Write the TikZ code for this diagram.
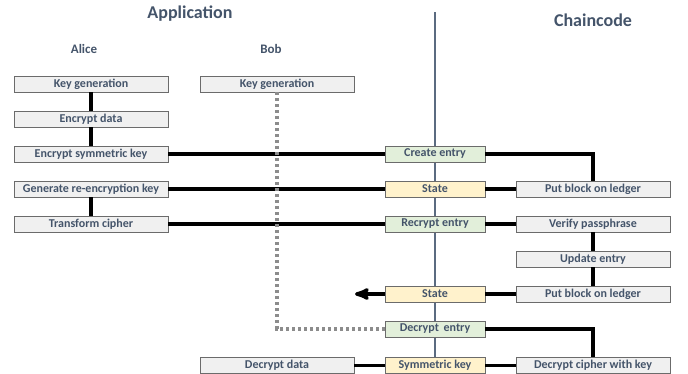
\documentclass[tikz,border=0pt]{standalone}
\usepackage{fontspec}
\setmainfont{Carlito}
\usepackage{xcolor}
\usetikzlibrary{arrows,calc,positioning}
\definecolor{slate}{HTML}{44546A}
\definecolor{boxgray}{HTML}{F0F0F0}
\definecolor{boxline}{HTML}{6B6B6B}
\definecolor{entrygreen}{HTML}{E2EFDA}
\definecolor{stateyellow}{HTML}{FFF2CC}
\definecolor{laneline}{HTML}{5B6B80}
\definecolor{dotgray}{HTML}{8C8C8C}

\begin{document}
\begin{tikzpicture}[x=1pt,y=-1pt,>=stealth',thick]
    \tikzstyle{every node}=[text=slate,font=\fontsize{12}{14}\selectfont\bfseries]
    \tikzstyle{box}=[draw=boxline,fill=boxgray,line width=0.9pt,minimum width=154pt,minimum height=16pt,inner sep=0pt]
    \tikzstyle{entry}=[box,fill=entrygreen,minimum width=100pt]
    \tikzstyle{state}=[box,fill=stateyellow,minimum width=100pt]
    \tikzstyle{link}=[-,line width=3.4pt,black]
    \tikzstyle{bobline}=[-,line width=3.2pt,dotgray,dash pattern=on 3pt off 3pt]
    \useasboundingbox (0,0) rectangle (688,373);
      % titles
      \node[font=\fontsize{18}{20}\selectfont\bfseries] (app)   at (190,14) {Application};
      \node[font=\fontsize{18}{20}\selectfont\bfseries] (chain) at (593,20) {Chaincode};
      \node[font=\fontsize{13}{15}\selectfont\bfseries] (alice) at (84,49)  {Alice};
      \node[font=\fontsize{13}{15}\selectfont\bfseries] (bob)   at (271,49) {Bob};
      \draw[laneline,line width=1.5pt] (435,12) -- (435,373);
      % Alice
      \node[box] (akey)  at (91,84)  {Key generation};
      \node[box] (aenc)  at (91,119) {Encrypt data};
      \node[box] (asym)  at (91,154) {Encrypt symmetric key};
      \node[box] (arek)  at (91,189) {Generate re-encryption key};
      \node[box] (atrf)  at (91,224) {Transform cipher};
      % Bob
      \node[box] (bkey)  at (277,84)  {Key generation};
      \node[box] (bdec)  at (277,365.5) {Decrypt data};
      % chaincode
      \node[entry] (create)  at (435,154) {Create entry};
      \node[state] (state)   at (435,189) {State};
      \node[entry] (recrypt) at (435,224) {Recrypt entry};
      \node[state] (state2)  at (435,294) {State};
      \node[entry] (decrypt) at (435,329) {Decrypt\,\ entry};
      \node[state] (symkey)  at (435,365.5) {Symmetric key};
      \node[box] (put)     at (593,189) {Put block on ledger};
      \node[box] (verify)  at (593,224) {Verify passphrase};
      \node[box] (update)  at (593,259) {Update entry};
      \node[box] (put2)    at (593,294) {Put block on ledger};
      \node[box] (decipher) at (593,365.5) {Decrypt cipher with key};
      \coordinate (out) at (355,294);

      \draw[link] (akey.south) -- (aenc.north);
      \draw[link] (aenc.south) -- (asym.north);
      \draw[link] (arek.south) -- (atrf.north);
      \draw[link] (asym.east) -- (create.west);
      \draw[link] (arek.east) -- (state.west);
      \draw[link] (atrf.east) -- (recrypt.west);
      \draw[link] (create.east) -| (put.north);
      \draw[link] (state.east) -- (put.west);
      \draw[link] (recrypt.east) -- (verify.west);
      \draw[link] (verify.south) -- (update.north);
      \draw[link] (update.south) -- (put2.north);
      \draw[link] (put2.west) -- (state2.east);
      \draw[link,->] (state2.west) -- (out);
      \draw[link] (decrypt.east) -| (decipher.north);
      \draw[link] (decipher.west) -- (symkey.east);
      \draw[link] (symkey.west) -- (bdec.east);
      \draw[bobline] (bkey.south) |- (decrypt.west);
    \end{tikzpicture}
\end{document}
